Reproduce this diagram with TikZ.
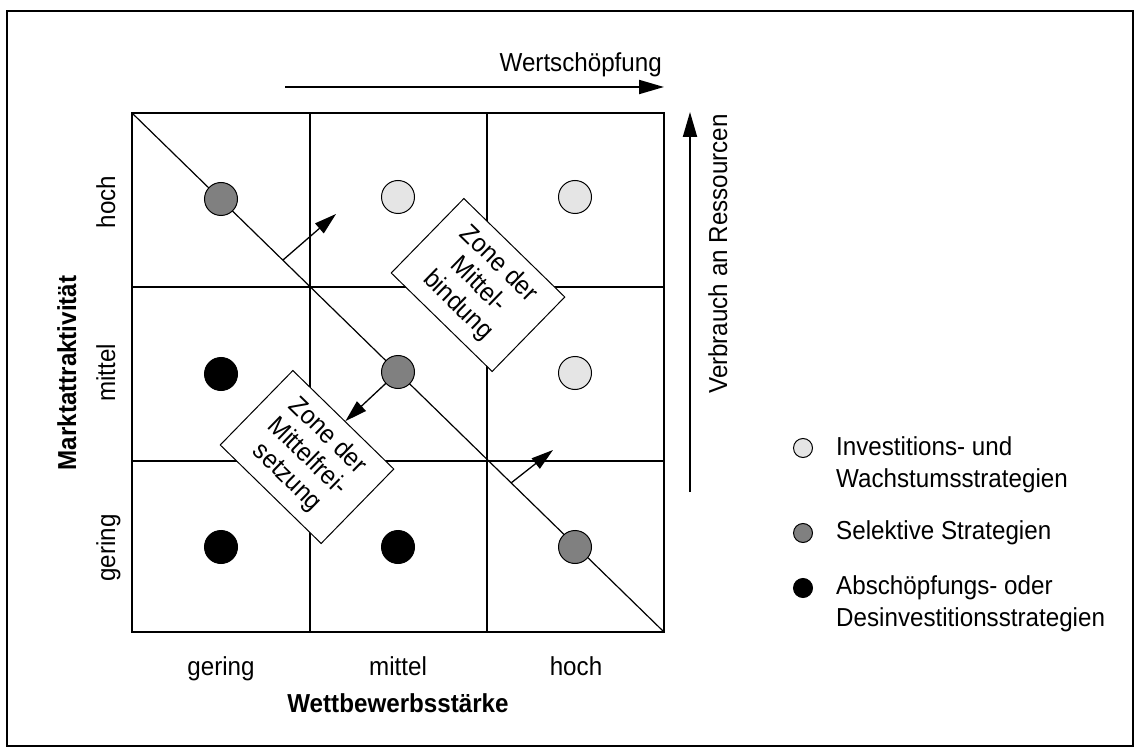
\documentclass[tikz,border=0pt]{standalone}
\usepackage{fontspec}
\setmainfont[FakeStretch=0.93]{Liberation Sans}
\usetikzlibrary{arrows.meta,positioning,calc}
\tikzset{
    % Base text style
    txt/.style={
        font=\fontsize{26}{32}\selectfont,
        inner sep=0pt
    },
    % Axis title style - bold
    axistitle/.style={
        txt,
        font=\fontsize{26}{32}\selectfont\bfseries
    },
    % Portfolio circle - common look
    dot/.style={
        circle,
        draw=black,
        line width=1pt,
        minimum size=33pt,
        inner sep=0pt
    },
    % Investition / Wachstum - light grey
    dotinvest/.style={dot, fill=black!10},
    % Selektiv - mid grey
    dotselect/.style={dot, fill=black!50},
    % Abschoepfung - black
    dotharvest/.style={dot, fill=black},
    % Legend circles are smaller
    legdot/.style={minimum size=19pt},
    % Zone box - rotated along the diagonal
    zone/.style={
        rectangle,
        draw=black,
        fill=white,
        line width=1pt,
        minimum width=141pt,
        minimum height=104pt,
        align=center,
        rotate=-44.3,
        font=\fontsize{26}{29}\selectfont,
        inner sep=1pt
    },
    % Grid lines
    gridline/.style={line width=2.4pt},
    % Big trend arrows
    bigarrow/.style={
        -{Triangle[length=25pt,width=14pt]},
        line width=2pt
    },
    % Small shift arrows
    arrow/.style={
        -{Triangle[length=22pt,width=13pt]},
        line width=1.3pt
    }
}

\begin{document}
\begin{tikzpicture}[x=1pt,y=-1pt]

    \useasboundingbox (0,0) rectangle (1141,754);

    % ========== FRAME ==========
    \draw[line width=2.2pt] (7,11) rectangle (1133,746);

    % ========== GRID ==========
    \coordinate (tl) at (132,113);
    \coordinate (br) at (664,632);
    \draw[gridline] (tl) rectangle (br);
    \draw[gridline] (310,113) -- (310,632);
    \draw[gridline] (487,113) -- (487,632);
    \draw[gridline] (132,287) -- (664,287);
    \draw[gridline] (132,461) -- (664,461);

    % Diagonal
    \draw[line width=1.2pt] (tl) -- (br);

    % ========== SHIFT ARROWS ==========
    \coordinate (up1s) at (283,260);
    \coordinate (up1e) at (336,214);
    \coordinate (up2s) at (511,483);
    \coordinate (up2e) at (553,450);
    \draw[arrow] (up1s) -- (up1e);
    \draw[arrow] (up2s) -- (up2e);

    % ========== CIRCLES ==========
    % row hoch
    \node[dotselect] (c11) at (221,199) {};
    \node[dotinvest] (c12) at (398,197) {};
    \node[dotinvest] (c13) at (575,197) {};
    % row mittel
    \node[dotharvest] (c21) at (221,374) {};
    \node[dotinvest] (c23) at (575,373) {};
    % row gering
    \node[dotharvest] (c31) at (221,547) {};
    \node[dotharvest] (c32) at (398,547) {};
    \node[dotselect] (c33) at (575,547) {};

    % ========== ZONES ==========
    \node[zone] (zonebind) at (478,285) {Zone der\\Mittel-\\bindung};
    \node[zone] (zonefree) at (307,457) {Zone der\\Mittelfrei-\\setzung};

    % middle circle sits on top of its arrow
    \coordinate (c22pos) at (398,372);
    \draw[arrow] (c22pos) -- (zonefree);
    \node[dotselect] (c22) at (c22pos) {};

    % ========== TREND ARROWS ==========
    \coordinate (ws) at (285,87);
    \coordinate (we) at (664,87);
    \draw[bigarrow] (ws) -- (we);
    \node[txt, anchor=base east] (wert) at (662,72) {Wertschöpfung};

    \coordinate (rs) at (690,492);
    \coordinate (re) at (690,112);
    \draw[bigarrow] (rs) -- (re);
    \node[txt, rotate=90, anchor=base] (verb) at (727,254) {Verbrauch an Ressourcen};

    % ========== AXIS LABELS ==========
    \node[txt, rotate=90, anchor=base] (yhoch) at (115,202) {hoch};
    \node[txt, rotate=90, anchor=base] (ymittel) at (115,373) {mittel};
    \node[txt, rotate=90, anchor=base] (ygering) at (115,548) {gering};
    \node[axistitle, rotate=90, anchor=base] (ytitle) at (76,373) {Marktattraktivität};

    \node[txt, anchor=base] (xgering) at (221,675) {gering};
    \node[txt, anchor=base] (xmittel) at (398,675) {mittel};
    \node[txt, anchor=base] (xhoch) at (576,675) {hoch};
    \node[axistitle, anchor=base] (xtitle) at (398,712) {Wettbewerbsstärke};

    % ========== LEGEND ==========
    \node[dotinvest, legdot] (leginvest) at (803,448) {};
    \node[dotselect, legdot] (legselect) at (803,533) {};
    \node[dotharvest, legdot] (legharvest) at (803,588) {};

    \node[txt, align=left, anchor=west] (tinvest) at (836,465) {Investitions- und\\Wachstumsstrategien};
    \node[txt, anchor=west] (tselect) at (836,533) {Selektive Strategien};
    \node[txt, align=left, anchor=west] (tharvest) at (836,604) {Abschöpfungs- oder\\Desinvestitionsstrategien};

\end{tikzpicture}
\end{document}
